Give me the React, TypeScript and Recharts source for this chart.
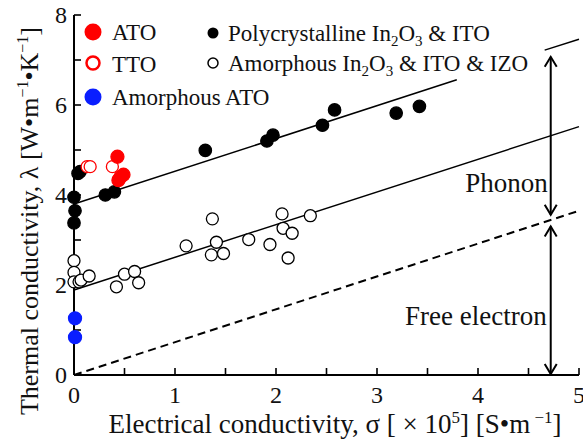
import React from "react";
import {
  ScatterChart,
  Scatter,
  XAxis,
  YAxis,
} from "recharts";

// values (x: 10^5 S/m, y: W/m/K)
const polycrystalline: [number, number][] = [
  [0.06, 4.52], [0.04, 4.48], [0, 3.95], [0.01, 3.65], [0, 3.38],
  [0.31, 4.0], [0.4, 4.07], [1.3, 4.99], [1.91, 5.2], [1.97, 5.33],
  [2.46, 5.55], [2.58, 5.89], [3.19, 5.82], [3.42, 5.97],
];
const amorphous: [number, number][] = [
  [0, 2.54], [0, 2.28], [0, 2.07], [0.05, 2.07], [0.07, 2.11], [0.15, 2.2],
  [0.42, 1.96], [0.5, 2.24], [0.6, 2.3], [0.64, 2.05], [1.11, 2.87],
  [1.37, 3.47], [1.41, 2.95], [1.36, 2.67], [1.48, 2.7], [1.73, 3.01],
  [1.94, 2.9], [2.06, 3.58], [2.07, 3.26], [2.16, 3.15], [2.12, 2.6], [2.34, 3.54],
];
const ato: [number, number][] = [[0.43, 4.85], [0.49, 4.45], [0.44, 4.33], [0.46, 4.4]];
const tto: [number, number][] = [[0.13, 4.63], [0.16, 4.63], [0.38, 4.63]];
const amorphousAto: [number, number][] = [[0.01, 1.26], [0.01, 0.84]];

// fitted lines
const polyFit: [number, number][] = [[0, 3.8], [3.79, 6.56]];
const polyFitTail: [number, number][] = [[4.66, 7.22], [5, 7.46]];
const amorphousFit: [number, number][] = [[0, 1.89], [5, 5.52]];
const freeElectronLine: [number, number][] = [[0, 0], [5, 3.65]];

// double arrows on the right
const phononArrow = [
  { x: 4.72, y: 7.07, dir: "up" },
  { x: 4.72, y: 3.56, dir: "down" },
];
const freeArrow = [
  { x: 4.72, y: 3.3, dir: "up" },
  { x: 4.72, y: 0.02, dir: "down" },
];
const annotations = [
  { x: 4.69, y: 4.07, text: "Phonon" },
  { x: 4.68, y: 1.11, text: "Free electron" },
];

const xTicks = [0, 0.5, 1, 1.5, 2, 2.5, 3, 3.5, 4, 4.5, 5];
const yTicks = [0, 1, 2, 3, 4, 5, 6, 7, 8];

const toPts = (arr: [number, number][]) => arr.map(([x, y]) => ({ x, y }));

const FONT = "Liberation Serif, Times New Roman, serif";
const AXIS_LINE = { stroke: "#000", strokeWidth: 2 };
const TICK_LINE = { stroke: "#000", strokeWidth: 1.6 };

// negative tick size makes the axis draw its ticks into the plot
const TICK_IN = -7;

const emptyTick = () => <g />;

const BottomLabel = (props: any) => {
  const { x, y, payload } = props;
  const v = payload.value;
  if (!Number.isInteger(v)) return <g />;
  return (
    <text x={x} y={y + 28} textAnchor="middle" fontSize={24} fontFamily={FONT} fill="#111">
      {v}
    </text>
  );
};

const LeftLabel = (props: any) => {
  const { x, y, payload } = props;
  const v = payload.value;
  if (v % 2 !== 0) return <g />;
  return (
    <text x={x - 7} y={y + 8} textAnchor="end" fontSize={24} fontFamily={FONT} fill="#111">
      {v}
    </text>
  );
};

const dot = (fill: string, stroke: string, r: number, sw = 1.3) => (p: any) => (
  <circle cx={p.cx} cy={p.cy} r={r} fill={fill} stroke={stroke} strokeWidth={sw} />
);

const noShape = () => <g />;

const arrowHead = (p: any) => {
  const { cx, cy, payload } = p;
  const s = payload.dir === "up" ? 1 : -1;
  return (
    <polyline
      points={`${cx - 6},${cy + s * 10} ${cx},${cy} ${cx + 6},${cy + s * 10}`}
      fill="none"
      stroke="#000"
      strokeWidth={2}
    />
  );
};

const labelShape = (p: any) => (
  <text x={p.cx} y={p.cy} textAnchor="end" fontSize={27} fontFamily={FONT} fill="#111">
    {p.payload.text}
  </text>
);

const Overlay = () => (
  <svg
    width={583}
    height={441}
    style={{ position: "absolute", left: 0, top: 0, pointerEvents: "none" }}
    fontFamily={FONT}
    fill="#111"
  >
    {/* legend */}
    <circle cx={93} cy={32} r={8.5} fill="#ff0000" />
    <text x={112} y={40} fontSize={23}>ATO</text>
    <circle cx={93} cy={63} r={6.5} fill="#fff" stroke="#ff0000" strokeWidth={2.5} />
    <text x={112} y={72} fontSize={23}>TTO</text>
    <circle cx={93} cy={97} r={8.5} fill="#0a1eff" />
    <text x={112} y={105} fontSize={23}>Amorphous ATO</text>
    <circle cx={213} cy={33} r={5.5} fill="#000" />
    <text x={228} y={41} fontSize={23}>
      Polycrystalline In<tspan dy={5} fontSize={15}>2</tspan>
      <tspan dy={-5}>O</tspan>
      <tspan dy={5} fontSize={15}>3</tspan>
      <tspan dy={-5}> &amp; ITO</tspan>
    </text>
    <circle cx={213} cy={63} r={5} fill="#fff" stroke="#000" strokeWidth={1.5} />
    <text x={228} y={71} fontSize={23}>
      Amorphous In<tspan dy={5} fontSize={15}>2</tspan>
      <tspan dy={-5}>O</tspan>
      <tspan dy={5} fontSize={15}>3</tspan>
      <tspan dy={-5}> &amp; ITO &amp; IZO</tspan>
    </text>

    {/* axis titles */}
    <text x={335} y={433} fontSize={27} textAnchor="middle">
      Electrical conductivity, σ [ × 10<tspan dy={-10} fontSize={17}>5</tspan>
      <tspan dy={10}>] [S•m</tspan>
      <tspan dy={-10} fontSize={17}> −1</tspan>
      <tspan dy={10}>]</tspan>
    </text>
    <text transform="translate(38,221) rotate(-90)" fontSize={26} textAnchor="middle">
      Thermal conductivity, λ [W•m<tspan dy={-10} fontSize={16}>−1</tspan>
      <tspan dy={10}>•K</tspan>
      <tspan dy={-10} fontSize={16}>−1</tspan>
      <tspan dy={10}>]</tspan>
    </text>
  </svg>
);

export default function App() {
  return (
    <div style={{ position: "relative", width: 583, height: 441, background: "#fff" }}>
      <style>{`body{margin:0}`}</style>
      <ScatterChart width={583} height={441} margin={{ top: 15, right: 4, bottom: 0, left: 0 }}>
        <XAxis
          type="number"
          dataKey="x"
          domain={[0, 5]}
          ticks={xTicks}
          interval={0}
          height={66}
          tickSize={TICK_IN}
          tickMargin={-TICK_IN}
          tickLine={TICK_LINE}
          tick={<BottomLabel />}
          axisLine={AXIS_LINE}
        />
        <XAxis
          xAxisId="top"
          orientation="top"
          type="number"
          dataKey="x"
          domain={[0, 5]}
          ticks={xTicks}
          interval={0}
          height={0}
          tickSize={TICK_IN}
          tickLine={TICK_LINE}
          tick={emptyTick}
          axisLine={AXIS_LINE}
        />
        <YAxis
          type="number"
          dataKey="y"
          domain={[0, 8]}
          ticks={yTicks}
          interval={0}
          width={74}
          tickSize={TICK_IN}
          tickMargin={-TICK_IN}
          tickLine={TICK_LINE}
          tick={<LeftLabel />}
          axisLine={AXIS_LINE}
        />
        <YAxis
          yAxisId="right"
          orientation="right"
          type="number"
          dataKey="y"
          domain={[0, 8]}
          ticks={yTicks}
          interval={0}
          width={0}
          tickSize={TICK_IN}
          tickLine={TICK_LINE}
          tick={emptyTick}
          axisLine={AXIS_LINE}
        />

        <Scatter data={toPts(polyFit)} line={{ stroke: "#000", strokeWidth: 1.5 }} shape={noShape} isAnimationActive={false} />
        <Scatter data={toPts(polyFitTail)} line={{ stroke: "#000", strokeWidth: 1.5 }} shape={noShape} isAnimationActive={false} />
        <Scatter data={toPts(amorphousFit)} line={{ stroke: "#000", strokeWidth: 1.5 }} shape={noShape} isAnimationActive={false} />
        <Scatter
          data={toPts(freeElectronLine)}
          line={{ stroke: "#000", strokeWidth: 2, strokeDasharray: "8 5" }}
          shape={noShape}
          isAnimationActive={false}
        />
        <Scatter data={phononArrow} line={{ stroke: "#000", strokeWidth: 2 }} shape={arrowHead} isAnimationActive={false} />
        <Scatter data={freeArrow} line={{ stroke: "#000", strokeWidth: 2 }} shape={arrowHead} isAnimationActive={false} />
        <Scatter data={annotations} shape={labelShape} isAnimationActive={false} />

        <Scatter data={toPts(amorphous)} shape={dot("#fff", "#000", 6)} isAnimationActive={false} />
        <Scatter data={toPts(polycrystalline)} shape={dot("#000", "#000", 6.2)} isAnimationActive={false} />
        <Scatter data={toPts(tto)} shape={dot("#fff", "#ff0000", 6)} isAnimationActive={false} />
        <Scatter data={toPts(ato)} shape={dot("#ff0000", "#ff0000", 6.5)} isAnimationActive={false} />
        <Scatter data={toPts(amorphousAto)} shape={dot("#0a1eff", "#0a1eff", 6.5)} isAnimationActive={false} />
      </ScatterChart>
      <Overlay />
    </div>
  );
}
